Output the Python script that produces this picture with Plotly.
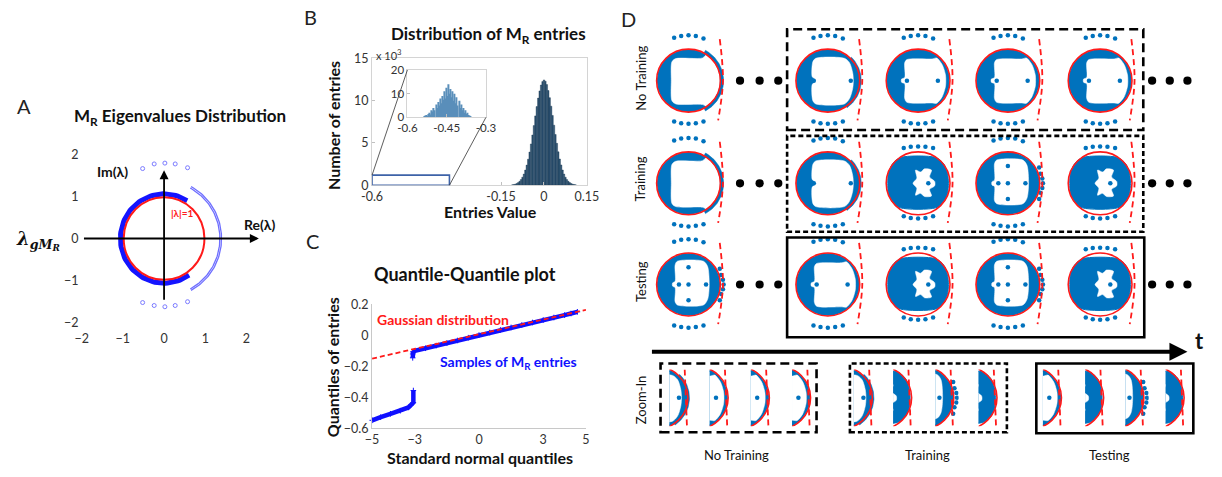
import numpy as np
import plotly.graph_objects as go

W, H = 1222, 477
FONT = "Lato"
BLUE = "#0072BD"
RED = "#ff1a1a"

# ---------------- Panel A data (eigenvalues, complex plane units) ----------------
A_TICKS = [-2, -1, 0, 1, 2]
A_UNIT_R = 0.98
A_BULK_ARC = [1.06, 58, 305]        # radius, start deg, end deg
A_OUTER_ARC = [1.375, -62, 62]
A_TOP_X = [-0.52, -0.24, 0.02, 0.27, 0.57]
A_TOP_Y = [1.66, 1.77, 1.79, 1.77, 1.68]
A_BOT_X = [-0.52, -0.24, 0.02, 0.27, 0.57]
A_BOT_Y = [-1.52, -1.59, -1.62, -1.59, -1.50]

# ---------------- Panel B data (histogram, counts in thousands) ----------------
B_BIN_CENTERS = [round(-0.11 + 0.005 * i, 3) for i in range(45)]
B_COUNTS_K = [0.05, 0.08, 0.13, 0.21, 0.31, 0.46, 0.67, 0.95, 1.32, 1.79,
              2.38, 3.08, 3.92, 4.88, 5.94, 7.05, 8.2, 9.3, 10.3, 11.15,
              11.85, 12.25, 12.45, 12.3, 11.9, 11.2, 10.35, 9.35, 8.25, 7.1,
              6.0, 4.95, 3.95, 3.1, 2.4, 1.8, 1.32, 0.95, 0.67, 0.46,
              0.31, 0.21, 0.13, 0.08, 0.05]
B_INSET_CENTERS = [round(-0.535 + 0.004 * i, 3) for i in range(45)]
B_INSET_COUNTS = [0.5, 0.8, 1, 0.6, 1.5, 2, 1.2, 3, 2.5, 4,
                  3, 5.5, 4, 6.5, 5, 8, 6, 9, 7.5, 11,
                  8, 12.5, 9, 14, 10, 12, 8.5, 11, 7, 10,
                  6, 8.5, 5, 7, 4, 5.5, 3, 4, 2, 3,
                  1.5, 2, 1, 0.8, 0.5]
B_XTICKS = [-0.6, -0.15, 0, 0.15]
B_XTICKTEXT = ["-0.6", "-0.15", "0", "0.15"]
B_YTICKS = [0, 5, 10, 15]
B_INSET_XTICKS = [-0.6, -0.45, -0.3]
B_INSET_YTICKS = [0, 10, 20]
B_ZOOM_BOX = [-0.6, -0.33, 0, 1.2]   # x0, x1, y0, y1

# ---------------- Panel C data (QQ plot) ----------------
C_REF_X = [-5, 5]
C_REF_Y = [-0.15, 0.165]
C_UP_X = [-3.07, -3.0, -2.5, -2.0, -1.5, -1.0, -0.5, 0.0, 0.5, 1.0, 1.5, 2.0, 2.5, 3.0, 3.5, 4.0, 4.3, 4.6]
C_UP_Y = [-0.106, -0.099, -0.083, -0.066, -0.05, -0.033, -0.015, 0.002, 0.018, 0.035,
          0.051, 0.067, 0.083, 0.099, 0.115, 0.131, 0.141, 0.152]
C_HOOK_X = [-3.1, -3.1, -3.08]
C_HOOK_Y = [-0.145, -0.12, -0.106]
C_LOW_X = [-3.07, -3.07, -3.30, -3.68, -4.14, -4.60, -4.99]
C_LOW_Y = [-0.356, -0.434, -0.465, -0.486, -0.506, -0.528, -0.548]
C_XTICKS = [-5, -3, 0, 3, 5]
C_YTICKS = [-0.6, -0.4, -0.2, 0, 0.2]

# ---------------- Panel D data (eigenvalue clouds, unit-circle coordinates) ----------------
D_ROW_LABELS = ["No Training", "Training", "Testing"]
D_GROUP_LABELS = ["No Training", "Training", "Testing"]
D_KINDS = [["C", "CD", "E", "E", "E"],
           ["C", "CD", "B", "T", "B"],
           ["T", "E", "B", "T", "B"]]
DISK_R = 0.97
BLOB_X = [-0.55, 0.55, 0.8, 0.92, 0.95, 0.92, 0.8, 0.55, -0.55, -0.8, -0.93, -0.95, -0.93, -0.8]
BLOB_Y = [0.82, 0.82, 0.62, 0.32, 0.0, -0.32, -0.6, -0.78, -0.78, -0.6, -0.32, 0.0, 0.32, 0.62]
HOLE_C_X = [0.44, -0.40, -0.52, -0.54, -0.52, -0.40, 0.44, 0.56, 1.4, 1.4, 0.56]
HOLE_C_Y = [0.72, 0.70, 0.60, 0.0, -0.64, -0.74, -0.76, -0.82, -1.1, 1.1, 0.82]
HOLE_CD_X = [0.52, -0.38, -0.47, -0.49, -0.42, -0.42, -0.49, -0.47, -0.38, 0.52, 0.68, 0.78, 0.80, 0.78, 0.68]
HOLE_CD_Y = [0.71, 0.71, 0.60, 0.12, 0.06, -0.06, -0.12, -0.64, -0.74, -0.74, -0.57, -0.25, 0.0, 0.25, 0.57]
HOLE_E_X = [0.44, -0.35, -0.42, -0.42, -0.52, -0.52, -0.42, -0.42, -0.35, 0.44, 0.58, 0.76, 0.86, 0.87, 0.86, 0.76, 0.58]
HOLE_E_Y = [0.69, 0.67, 0.57, 0.10, 0.05, -0.05, -0.10, -0.57, -0.69, -0.71, -0.72, -0.50, -0.18, 0.0, 0.18, 0.50, 0.72]
HOLE_T_X = [0.47, -0.35, -0.42, -0.42, -0.50, -0.50, -0.42, -0.42, -0.35, 0.47, 0.60, 0.65, 0.60]
HOLE_T_Y = [0.74, 0.74, 0.62, 0.10, 0.05, -0.05, -0.10, -0.55, -0.65, -0.65, -0.47, 0.0, 0.57]
HOLE_X_X = [-0.08, 0.08, 0.2, 0.42, 0.36, 0.52, 0.52, 0.36, 0.42, 0.2, 0.08, -0.08, -0.04, -0.16, -0.04]
HOLE_X_Y = [0.42, 0.36, 0.46, 0.42, 0.2, 0.06, -0.08, -0.2, -0.40, -0.42, -0.32, -0.38, -0.16, 0.0, 0.16]
STRIP_C = [1.0, 1.1, -61, 61]
STRIP_CD = [0.95, 1.05, -55, 45]
DOTS_CD_X = [-0.44, 0.72]
DOTS_CD_Y = [0.0, 0.0]
DOTS_E_X = [-0.35, 0.62]
DOTS_E_Y = [0.0, 0.0]
DOTS_T_X = [-0.30, 0.0, 0.55, 0.0, 0.0]
DOTS_T_Y = [0.0, 0.0, 0.0, 0.55, -0.50]
OUT_T_X = [1.02, 1.08, 1.1, 1.08, 1.02, 0.98, 0.98]
OUT_T_Y = [0.30, 0.15, 0.0, -0.15, -0.30, 0.5, -0.5]
DOTS_B_X = [0.32]
DOTS_B_Y = [0.0]
RING_TOP_X = [-0.45, -0.23, 0.0, 0.23, 0.47]
RING_TOP_Y = [1.36, 1.42, 1.44, 1.42, 1.34]
RING_BOT_Y = [-1.30, -1.35, -1.37, -1.35, -1.30]
BLOB_TOP_Y = [1.12, 1.16, 1.17, 1.16, 1.12]
BLOB_BOT_Y = [-1.05, -1.10, -1.12, -1.10, -1.05]
DASH_X = [0.98, 1.08, 0.93]
DASH_Y = [1.32, 0.0, -1.26]
ZOOM_DASH_X = [0.9, 0.97]
ZOOM_DASH_Y = [0.9, -0.9]

KINDS = {
    "C": dict(outline="disk", hole=(HOLE_C_X, HOLE_C_Y), strip=STRIP_C, dots=None, out=None),
    "CD": dict(outline="disk", hole=(HOLE_CD_X, HOLE_CD_Y), strip=STRIP_CD, dots=(DOTS_CD_X, DOTS_CD_Y), out=None),
    "E": dict(outline="disk", hole=(HOLE_E_X, HOLE_E_Y), strip=None, dots=(DOTS_E_X, DOTS_E_Y), out=None),
    "T": dict(outline="disk", hole=(HOLE_T_X, HOLE_T_Y), strip=None, dots=(DOTS_T_X, DOTS_T_Y), out=(OUT_T_X, OUT_T_Y)),
    "B": dict(outline="blob", hole=(HOLE_X_X, HOLE_X_Y), strip=None, dots=(DOTS_B_X, DOTS_B_Y), out=None),
}

# ---------------- layout helpers ----------------
fig = go.Figure()
layout = dict(width=W, height=H, margin=dict(l=0, r=0, t=0, b=0),
              paper_bgcolor="white", plot_bgcolor="rgba(0,0,0,0)", showlegend=False,
              font=dict(family=FONT, color="#222", size=12))
shapes, annotations = [], []
_count = [0]


def new_axes(x0, x1, y0, y1, xr, yr, xkw=None, ykw=None):
    _count[0] += 1
    n = _count[0]
    s = "" if n == 1 else str(n)
    base = dict(showgrid=False, zeroline=False, showline=False, showticklabels=False,
                ticks="", fixedrange=True)
    xa = dict(base, domain=[x0 / W, x1 / W], range=xr, anchor="y" + s)
    ya = dict(base, domain=[1 - y1 / H, 1 - y0 / H], range=yr, anchor="x" + s)
    if xkw:
        xa.update(xkw)
    if ykw:
        ya.update(ykw)
    layout["xaxis" + s] = xa
    layout["yaxis" + s] = ya
    return "x" + s, "y" + s


def text(px, py, t, size=12, color="#222", bold=False, angle=0, family=FONT, xanchor="center"):
    annotations.append(dict(x=px / W, y=1 - py / H, xref="paper", yref="paper", text=t,
                            showarrow=False, textangle=angle, xanchor=xanchor, yanchor="middle",
                            font=dict(size=size, color=color, family=family,
                                      weight="bold" if bold else "normal")))


def arrow(x, y, ax, ay, xref, yref, width):
    annotations.append(dict(x=x, y=y, ax=ax, ay=ay, xref=xref, yref=yref,
                            axref=xref if xref != "paper" else "pixel",
                            ayref=yref if yref != "paper" else "pixel",
                            text=" ", font=dict(size=1), showarrow=True, arrowhead=2,
                            arrowsize=1 if width < 3 else 0.9, arrowwidth=width, arrowcolor="black"))


def arc_xy(r, a0, a1, n=90):
    t = np.radians(np.linspace(a0, a1, n))
    return r * np.cos(t), r * np.sin(t)


def sector_xy(r0, r1, a0, a1):
    xo, yo = arc_xy(r1, a0, a1)
    xi, yi = arc_xy(r0, a1, a0)
    return np.concatenate([xo, xi, xo[:1]]), np.concatenate([yo, yi, yo[:1]])


def closed(xs, ys):
    return list(xs) + [xs[0]], list(ys) + [ys[0]]


# ================= Panel A =================
SA = 42.0
tickfont = dict(size=12.5, color="#333", family=FONT)
xa, ya = new_axes(72 - 0.05 * SA, 72 + 4.35 * SA, 238 - 2.2 * 43.5, 238 + 2.15 * 43.5,
                  [-2.05, 2.35], [-2.15, 2.2],
                  xkw=dict(showticklabels=True, tickvals=A_TICKS, tickfont=tickfont),
                  ykw=dict(showticklabels=True, tickvals=A_TICKS, tickfont=tickfont))
bx, by = arc_xy(*A_BULK_ARC)
fig.add_trace(go.Scatter(x=bx, y=by, xaxis=xa, yaxis=ya, mode="lines",
                         line=dict(color="#1414ff", width=5), hoverinfo="skip"))
for dr in (-0.02, 0.02):
    ox, oy = arc_xy(A_OUTER_ARC[0] + dr, A_OUTER_ARC[1], A_OUTER_ARC[2])
    fig.add_trace(go.Scatter(x=ox, y=oy, xaxis=xa, yaxis=ya, mode="lines",
                             line=dict(color="#6f6fff", width=1.3), hoverinfo="skip"))
fig.add_trace(go.Scatter(x=A_TOP_X + A_BOT_X, y=A_TOP_Y + A_BOT_Y, xaxis=xa, yaxis=ya, mode="markers",
                         marker=dict(symbol="circle-open", size=4, color="#7b7bff", line=dict(width=1)),
                         hoverinfo="skip"))
shapes.append(dict(type="circle", xref=xa, yref=ya, x0=-A_UNIT_R, x1=A_UNIT_R, y0=-A_UNIT_R, y1=A_UNIT_R,
                   line=dict(color=RED, width=2), layer="above"))
arrow(2.3, 0, -1.98, 0, xa, ya, 1.8)
arrow(0, 1.62, 0, -1.5, xa, ya, 1.8)
text(13, 101, "A", size=20)
text(172, 113, "M<sub>R</sub> Eigenvalues Distribution", size=17, bold=True, color="#111")
text(103, 169, "Im(λ)", size=14, bold=True, color="#111")
text(254, 224, "Re(λ)", size=14, bold=True, color="#111")
text(175, 212, "|λ|=1", size=10, bold=True, color=RED)
text(28, 240, "<i>λ<sub>gM<sub>R</sub></sub></i>", size=18, bold=True, color="#111", family="DejaVu Serif")

# ================= Panel B =================
frame = dict(showline=True, linecolor="#d4d4d4", linewidth=1, mirror=True,
             ticks="inside", ticklen=3, tickcolor="#c0c0c0")
xb, yb = new_axes(368, 587, 52, 183, [-0.6, 0.15], [0, 15],
                  xkw=dict(frame, showticklabels=True, tickvals=B_XTICKS, ticktext=B_XTICKTEXT, tickfont=tickfont),
                  ykw=dict(frame, showticklabels=True, tickvals=B_YTICKS, tickfont=tickfont))
fig.add_trace(go.Bar(x=B_BIN_CENTERS, y=B_COUNTS_K, xaxis=xb, yaxis=yb, width=0.005,
                     marker=dict(color="#2d5473", line=dict(color="#1c3850", width=0.4)), hoverinfo="skip"))
shapes.append(dict(type="rect", xref=xb, yref=yb, x0=B_ZOOM_BOX[0], x1=B_ZOOM_BOX[1],
                   y0=B_ZOOM_BOX[2], y1=B_ZOOM_BOX[3], line=dict(color="#3e63a8", width=1.6)))
xi_, yi_ = new_axes(404, 484, 64, 113, [-0.6, -0.3], [0, 20],
                    xkw=dict(frame, showticklabels=True, tickvals=B_INSET_XTICKS,
                             ticktext=["-0.6", "-0.45", "-0.3"], tickfont=dict(size=11.5, color="#333")),
                    ykw=dict(frame, showticklabels=True, tickvals=B_INSET_YTICKS, tickfont=dict(size=11.5, color="#333")))
fig.add_trace(go.Bar(x=B_INSET_CENTERS, y=B_INSET_COUNTS, xaxis=xi_, yaxis=yi_, width=0.004,
                     marker=dict(color="#5a8fba", line=dict(width=0)), hoverinfo="skip"))


def bpx(x):
    return 368 + (x + 0.6) / 0.75 * 219


def bpy(y):
    return 183 - y / 15 * 131


for (p0x, p0y), (p1x, p1y) in [((bpx(B_ZOOM_BOX[0]), bpy(B_ZOOM_BOX[3])), (404, 64)),
                               ((bpx(B_ZOOM_BOX[1]), bpy(B_ZOOM_BOX[2])), (484, 113))]:
    shapes.append(dict(type="line", xref="paper", yref="paper", x0=p0x / W, y0=1 - p0y / H,
                       x1=p1x / W, y1=1 - p1y / H, line=dict(color="#333", width=0.8)))
text(305, 9, "B", size=20)
text(487, 28, "Distribution of M<sub>R</sub> entries", size=17, bold=True, color="#111")
text(370, 48, "x 10<sup>3</sup>", size=11, color="#333", xanchor="left")
text(489, 210, "Entries Value", size=16, bold=True, color="#111")
text(328, 121, "Number of entries", size=16, bold=True, color="#111", angle=-90)

# ================= Panel C =================
cline = dict(showline=True, linecolor="#c8c8c8", linewidth=1)
xc, yc = new_axes(368, 586, 306, 434, [-5, 5], [-0.6, 0.2],
                  xkw=dict(cline, showticklabels=True, tickvals=C_XTICKS, tickfont=tickfont),
                  ykw=dict(cline, showticklabels=True, tickvals=C_YTICKS, tickfont=tickfont))
for sx, sy in [(C_UP_X, C_UP_Y), (C_HOOK_X, C_HOOK_Y), (C_LOW_X, C_LOW_Y)]:
    fig.add_trace(go.Scatter(x=sx, y=sy, xaxis=xc, yaxis=yc, mode="lines+markers", cliponaxis=False,
                             line=dict(color="#1010ff", width=4.5),
                             marker=dict(symbol="cross-thin", size=4, line=dict(width=1, color="#1010ff")),
                             hoverinfo="skip"))
fig.add_trace(go.Scatter(x=C_REF_X, y=C_REF_Y, xaxis=xc, yaxis=yc, mode="lines", cliponaxis=False,
                         line=dict(color=RED, width=1.8, dash="5px,3px"), hoverinfo="skip"))
text(307, 241, "C", size=20)
text(463, 275, "Quantile-Quantile plot", size=18, bold=True, color="#111")
text(440, 322, "Gaussian distribution", size=14, bold=True, color=RED)
text(507, 366, "Samples of M<sub>R</sub> entries", size=14, bold=True, color="#1010ff")
text(478, 464, "Standard normal quantiles", size=16, bold=True, color="#111")
text(327, 371, "Quantiles of entries", size=16, bold=True, color="#111", angle=-90)

# ================= Panel D =================
S = 32.5
ROW_Y = [75, 181, 285.5]
COL_X = [690.5, 832.5, 924.5, 1016, 1110]
ZOOM_CX = [[657.3, 698.3, 740.3, 782.3], [845.3, 885.3, 928.3, 972.3], [1038, 1081, 1122, 1163]]
ZOOM_CY = 402.5


def draw_cell(xa, ya, kind, zoom):
    k = KINDS[kind]
    if k["outline"] == "blob":
        ox, oy = closed(BLOB_X, BLOB_Y)
        fig.add_trace(go.Scatter(x=ox, y=oy, xaxis=xa, yaxis=ya, mode="lines", fill="toself",
                                 fillcolor=BLUE, line=dict(color=BLUE, width=1, shape="spline", smoothing=0.8),
                                 hoverinfo="skip"))
    else:
        ox, oy = arc_xy(DISK_R, 0, 360, 120)
        fig.add_trace(go.Scatter(x=ox, y=oy, xaxis=xa, yaxis=ya, mode="lines", fill="toself",
                                 fillcolor=BLUE, line=dict(color=BLUE, width=1.5), hoverinfo="skip"))
    hx, hy = closed(*k["hole"])
    fig.add_trace(go.Scatter(x=hx, y=hy, xaxis=xa, yaxis=ya, mode="lines", fill="toself",
                             fillcolor="white", line=dict(color="white", width=0.5, shape="spline", smoothing=0.8),
                             hoverinfo="skip"))
    if k["strip"]:
        sx, sy = sector_xy(*k["strip"])
        fig.add_trace(go.Scatter(x=sx, y=sy, xaxis=xa, yaxis=ya, mode="lines", fill="toself",
                                 fillcolor=BLUE, line=dict(color=BLUE, width=0.5), hoverinfo="skip"))
    for key in ("dots", "out"):
        if k[key]:
            fig.add_trace(go.Scatter(x=k[key][0], y=k[key][1], xaxis=xa, yaxis=ya, mode="markers",
                                     marker=dict(color=BLUE, size=4.5), hoverinfo="skip"))
    if zoom:
        fig.add_trace(go.Scatter(x=ZOOM_DASH_X, y=ZOOM_DASH_Y, xaxis=xa, yaxis=ya, mode="lines",
                                 line=dict(color=RED, width=1.8, dash="6px,4px"), hoverinfo="skip"))
    else:
        ty, byy = (BLOB_TOP_Y, BLOB_BOT_Y) if k["outline"] == "blob" else (RING_TOP_Y, RING_BOT_Y)
        fig.add_trace(go.Scatter(x=RING_TOP_X + RING_TOP_X, y=ty + byy, xaxis=xa, yaxis=ya, mode="markers",
                                 marker=dict(color=BLUE, size=4.5), hoverinfo="skip"))
        fig.add_trace(go.Scatter(x=DASH_X, y=DASH_Y, xaxis=xa, yaxis=ya, mode="lines",
                                 line=dict(color=RED, width=1.8, dash="6px,4px", shape="spline"),
                                 hoverinfo="skip"))
    shapes.append(dict(type="circle", xref=xa, yref=ya, x0=-1, x1=1, y0=-1, y1=1,
                       line=dict(color=RED, width=1.6), layer="above"))


for r in range(3):
    for c in range(5):
        cx, cy = COL_X[c], ROW_Y[r]
        xa_, ya_ = new_axes(cx - 1.45 * S, cx + 1.45 * S, cy - 1.55 * S, cy + 1.55 * S,
                            [-1.45, 1.45], [-1.55, 1.55])
        draw_cell(xa_, ya_, D_KINDS[r][c], False)
SZ = 32.6
for r in range(3):
    for c in range(4):
        cx = ZOOM_CX[r][c]
        xa_, ya_ = new_axes(cx + 0.42 * SZ, cx + 1.15 * SZ, ZOOM_CY - 0.9 * SZ, ZOOM_CY + 0.9 * SZ,
                            [0.42, 1.15], [-0.9, 0.9])
        draw_cell(xa_, ya_, D_KINDS[r][c + 1], True)


def box(x0, y0, x1, y1, dash):
    shapes.append(dict(type="rect", xref="paper", yref="paper", x0=x0 / W, x1=x1 / W,
                       y0=1 - y1 / H, y1=1 - y0 / H, line=dict(color="black", width=2.6, dash=dash)))


box(791, 22, 1154, 126, "9px,5px")
box(791, 132, 1154, 231, "5px,3px")
box(791, 237, 1155, 340, "solid")
box(662, 367, 821, 438, "9px,5px")
box(855, 367, 1015, 438, "5px,3px")
box(1045, 367, 1205, 439, "solid")

for ry in ROW_Y:
    for ex in [743, 763, 782, 1163, 1181, 1199]:
        shapes.append(dict(type="circle", xref="paper", yref="paper", x0=(ex - 4.2) / W, x1=(ex + 4.2) / W,
                           y0=1 - (ry + 4.2) / H, y1=1 - (ry - 4.2) / H, fillcolor="black",
                           line=dict(width=0)))

arrow(1199 / W, 1 - 355 / H, -537, 0, "paper", "paper", 4)
text(1211, 343, "t", size=22, bold=True, color="#111")
text(629, 11, "D", size=20)
for lbl, py in zip(D_ROW_LABELS + ["Zoom-In"], [72, 176, 282, 404]):
    text(642, py, lbl, size=13, color="#111", angle=-90)
for lbl, px in zip(D_GROUP_LABELS, [739, 934, 1120]):
    text(px, 461, lbl, size=13, color="#111")

layout["shapes"] = shapes
layout["annotations"] = annotations
fig.update_layout(**layout)
fig.write_html("out.html", config={"displayModeBar": False},
               post_script="document.body.style.margin='0px';")
